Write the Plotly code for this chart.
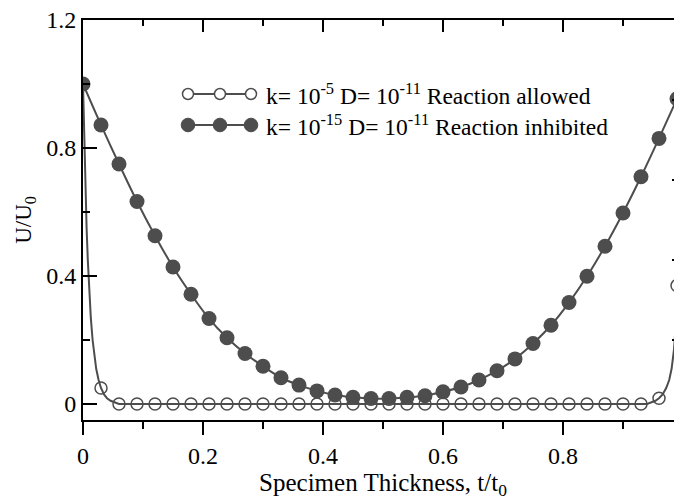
import plotly.graph_objects as go

# ---------------- data ----------------
x_markers = [0.0, 0.03, 0.06, 0.09, 0.12, 0.15, 0.18, 0.21, 0.24, 0.27, 0.30, 0.33,
             0.36, 0.39, 0.42, 0.45, 0.48, 0.51, 0.54, 0.57, 0.60, 0.63, 0.66, 0.69,
             0.72, 0.75, 0.78, 0.81, 0.84, 0.87, 0.90, 0.93, 0.96, 0.99]

allowed_markers = [1.0, 0.05, 0.0, 0.0, 0.0, 0.0, 0.0, 0.0, 0.0, 0.0, 0.0, 0.0,
                   0.0, 0.0, 0.0, 0.0, 0.0, 0.0, 0.0, 0.0, 0.0, 0.0, 0.0, 0.0,
                   0.0, 0.0, 0.0, 0.0, 0.0, 0.0, 0.0, 0.0, 0.018, 0.37]

inhibited_markers = [1.0, 0.872, 0.75, 0.633, 0.526, 0.428, 0.343, 0.267, 0.207, 0.158,
                     0.118, 0.082, 0.059, 0.041, 0.028, 0.021, 0.017, 0.017, 0.021, 0.026,
                     0.038, 0.053, 0.075, 0.104, 0.141, 0.189, 0.246, 0.317, 0.399, 0.493,
                     0.597, 0.710, 0.830, 0.954]

# curve of the "reaction allowed" case
allowed_line_x = [0.0, 0.002, 0.004, 0.006, 0.008, 0.010, 0.013, 0.016, 0.019, 0.022,
                  0.026, 0.030, 0.035, 0.040, 0.046, 0.053, 0.060,
                  0.940, 0.947, 0.954, 0.960, 0.966, 0.972, 0.977, 0.981, 0.985,
                  0.988, 0.991, 0.994, 0.997, 1.0]
allowed_line_y = [1.0, 0.82, 0.67, 0.55, 0.45, 0.37, 0.27, 0.20, 0.15, 0.11,
                  0.075, 0.05, 0.03, 0.018, 0.01, 0.004, 0.0,
                  0.0, 0.004, 0.01, 0.018, 0.03, 0.05, 0.075, 0.11, 0.17,
                  0.25, 0.34, 0.46, 0.64, 1.0]

# curve of the "reaction inhibited" case
inhibited_line_x = x_markers + [1.0]
inhibited_line_y = inhibited_markers + [0.993]

x_tickvals = [0, 0.2, 0.4, 0.6, 0.8, 1.0]
x_ticktext = ["0", "0.2", "0.4", "0.6", "0.8", "1"]
x_minor = [0.1, 0.3, 0.5, 0.7, 0.9]
y_tickvals = [0, 0.4, 0.8, 1.2]
y_ticktext = ["0", "0.4", "0.8", "1.2"]
y_minor = [0.2, 0.6, 1.0]
right_major = [2, 4, 6, 8]
right_minor = [1, 3, 5, 7, 9]

legend_labels = ["k= 10<sup>-5</sup> D= 10<sup>-11</sup> Reaction allowed",
                 "k= 10<sup>-15</sup> D= 10<sup>-11</sup> Reaction inhibited"]

# ---------------- styling ----------------
GRAY = "#4d4d4d"
FONT = "Liberation Serif"

fig = go.Figure()

fig.add_trace(go.Scatter(x=inhibited_line_x, y=inhibited_line_y, mode="lines",
                         line=dict(color=GRAY, width=2, shape="spline", smoothing=0.8),
                         hoverinfo="skip", showlegend=False))
fig.add_trace(go.Scatter(x=x_markers, y=inhibited_markers, mode="markers",
                         marker=dict(symbol="circle", size=15, color=GRAY),
                         showlegend=False))
fig.add_trace(go.Scatter(x=allowed_line_x, y=allowed_line_y, mode="lines",
                         line=dict(color=GRAY, width=2),
                         hoverinfo="skip", showlegend=False))
fig.add_trace(go.Scatter(x=x_markers, y=allowed_markers, mode="markers",
                         marker=dict(symbol="circle-open", size=12, color=GRAY,
                                     line=dict(width=1.5, color=GRAY)),
                         showlegend=False))

axis_font = dict(family=FONT, size=24, color="black")

fig.update_layout(
    width=682, height=500,
    margin=dict(l=75, r=7, t=12, b=88),
    paper_bgcolor="white", plot_bgcolor="white",
    showlegend=False,
    font=dict(family=FONT, color="black"),
    xaxis=dict(range=[0, 1], tickvals=x_tickvals, ticktext=x_ticktext,
               ticks="outside", ticklen=13, tickwidth=2, tickcolor="black",
               minor=dict(tickvals=x_minor, ticks="outside", ticklen=7, tickwidth=2,
                          tickcolor="black"),
               showline=True, linewidth=2, linecolor="black", mirror=True,
               automargin=False, ticklabeloverflow="allow",
               showgrid=False, zeroline=False, tickfont=axis_font,
               title=dict(text="Specimen Thickness, t/t<sub>0</sub>",
                          font=dict(family=FONT, size=25, color="black"), standoff=4)),
    xaxis2=dict(overlaying="x", side="top", anchor="y", range=[0, 1],
                tickvals=x_tickvals, ticks="inside", ticklen=12, tickwidth=2,
                tickcolor="black",
                minor=dict(tickvals=x_minor, ticks="inside", ticklen=6, tickwidth=2,
                           tickcolor="black"),
                showticklabels=False, showline=False,
                showgrid=False, zeroline=False),
    yaxis=dict(range=[-0.05, 1.2], tickvals=y_tickvals, ticktext=y_ticktext,
               ticks="inside", ticklen=14, tickwidth=2, tickcolor="black",
               minor=dict(tickvals=y_minor, ticks="inside", ticklen=7, tickwidth=2,
                          tickcolor="black"),
               showline=True, linewidth=2, linecolor="black",
               automargin=False, ticklabeloverflow="allow",
               showgrid=False, zeroline=False, tickfont=axis_font,
               title=dict(text="U/U<sub>0</sub>",
                          font=dict(family=FONT, size=23, color="black"), standoff=8)),
    yaxis3=dict(overlaying="y", side="right", anchor="x", range=[0, 10],
                tickvals=right_major, ticks="inside", ticklen=11, tickwidth=2,
                tickcolor="black",
                minor=dict(tickvals=right_minor, ticks="inside", ticklen=6, tickwidth=2,
                           tickcolor="black"),
                showticklabels=False, showline=False, showgrid=False, zeroline=False),
)

# ---------------- hand-drawn legend (glyphs as shapes, labels as text) ----------------
legend_rows_y = [0.815, 0.7375]           # paper coordinates of the two rows
glyph_x = [0.175, 0.2283, 0.28]           # three marker positions in each glyph
shapes = []
for row, yv in enumerate(legend_rows_y):
    shapes.append(dict(type="line", xref="paper", yref="paper",
                       x0=glyph_x[0], x1=glyph_x[-1], y0=yv, y1=yv,
                       line=dict(color=GRAY, width=2)))
    r = 5.5 if row == 0 else 6.8
    for gx in glyph_x:
        shapes.append(dict(type="circle", xref="paper", yref="paper",
                           xsizemode="pixel", ysizemode="pixel",
                           xanchor=gx, yanchor=yv, x0=-r, x1=r, y0=-r, y1=r,
                           fillcolor="white" if row == 0 else GRAY,
                           line=dict(color=GRAY, width=1.5 if row == 0 else 1)))
fig.update_layout(shapes=shapes)

for label, yv in zip(legend_labels, legend_rows_y):
    fig.add_annotation(x=0.302, y=yv, xref="paper", yref="paper",
                       text=label, showarrow=False, xanchor="left", yanchor="middle",
                       font=dict(family=FONT, size=23.5, color="black"))

# attach an (empty) trace to the extra axes so their ticks are drawn
fig.add_trace(go.Scatter(x=[None], y=[None], xaxis="x2", yaxis="y3",
                         showlegend=False, hoverinfo="skip"))

fig.write_html("out.html")
